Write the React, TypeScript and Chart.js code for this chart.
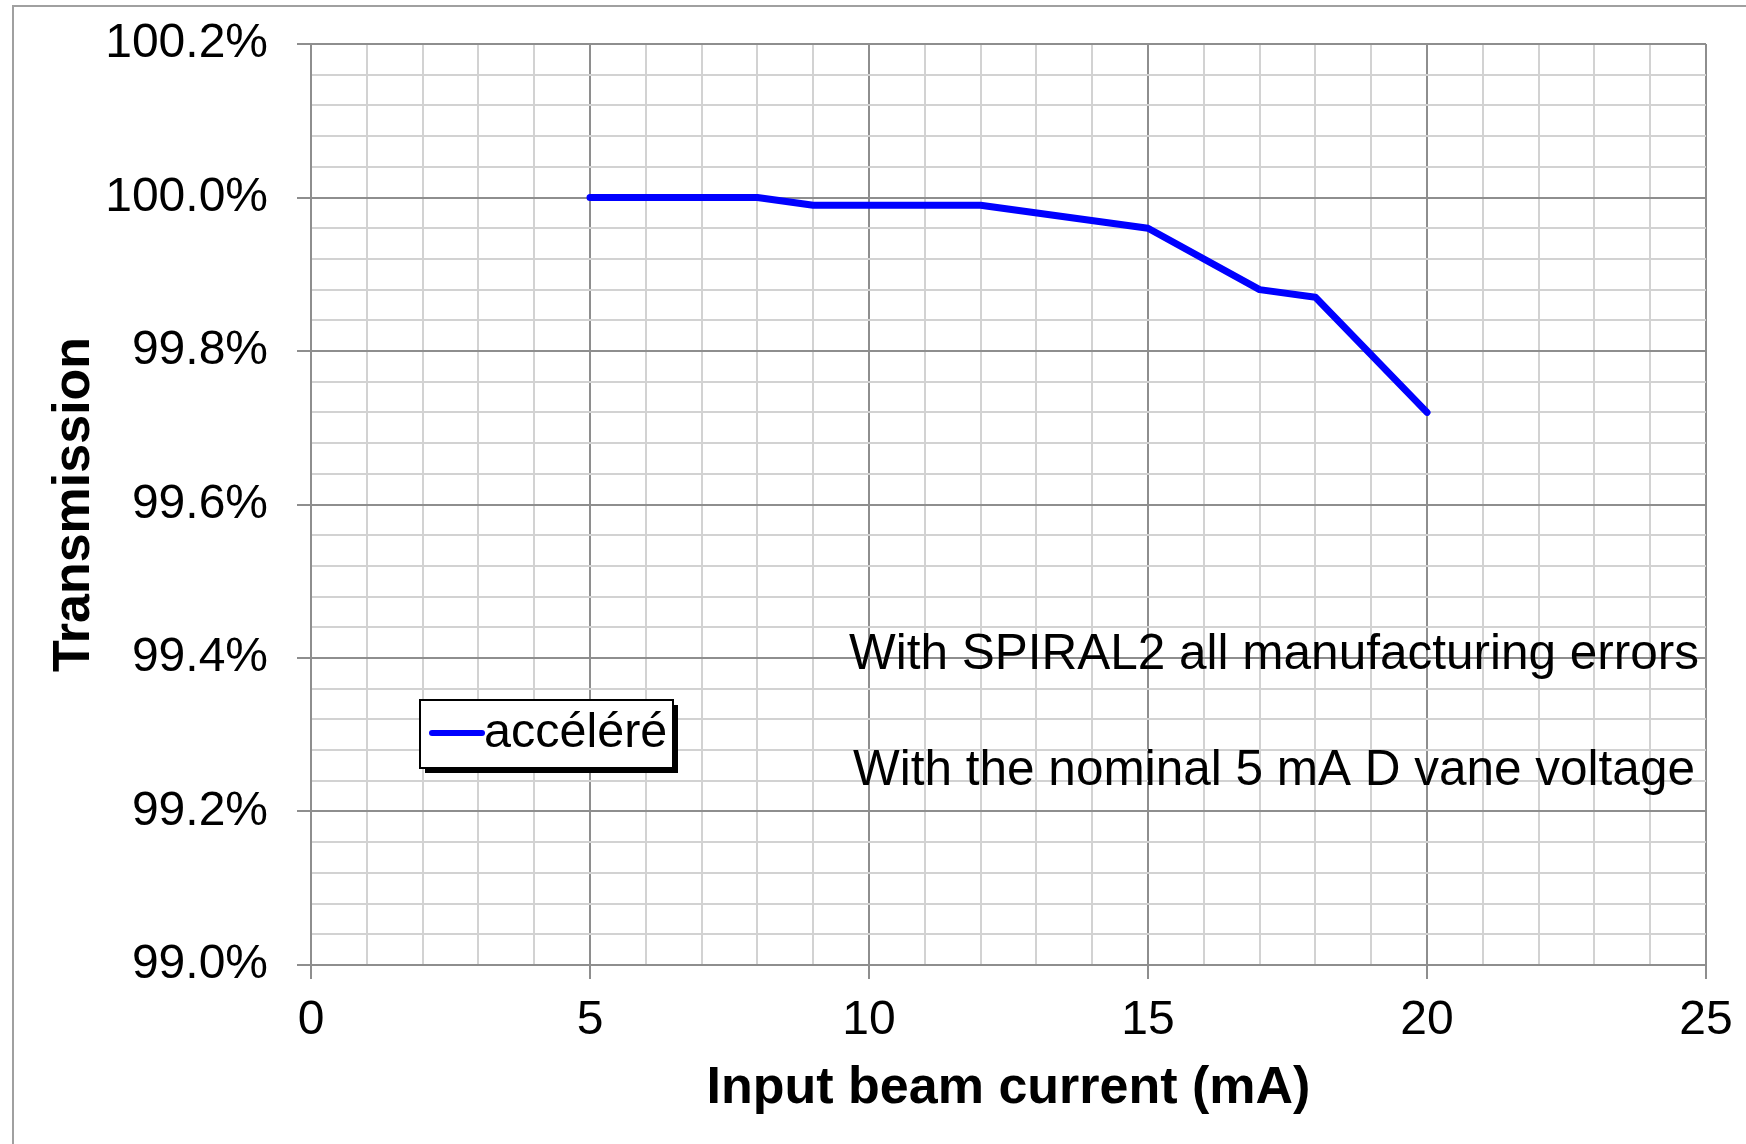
import React, { useEffect, useRef } from "react";
import { Chart, registerables } from "chart.js";

Chart.register(...registerables);

// ---- data ----
const seriesLabel = "accéléré";
const xValues = [5, 8, 9, 12, 15, 17, 18, 20];
const yValues = [100.0, 100.0, 99.99, 99.99, 99.96, 99.88, 99.87, 99.72];

const xMajorTicks = [0, 5, 10, 15, 20, 25];
const yMajorTicks = [99.0, 99.2, 99.4, 99.6, 99.8, 100.0, 100.2];
const xMinorStep = 1;
const yMinorStep = 0.04;

const xTitle = "Input beam current (mA)";
const yTitle = "Transmission";
const notes = [
  "With SPIRAL2 all manufacturing errors",
  "With the nominal 5 mA D vane voltage",
];

const FONT = "'Liberation Sans', Arial, sans-serif";
const MAJOR = "#8e8e8e";
const MINOR = "#d2d2d2";

const isMajor = (list: number[], v: number) =>
  list.some((m) => Math.abs(m - v) < 1e-6);

export default function App() {
  const ref = useRef<HTMLCanvasElement | null>(null);

  useEffect(() => {
    if (!ref.current) return;

    const framePlugin = {
      id: "frame",
      beforeDraw(chart: any) {
        const { ctx, width, height } = chart;
        ctx.save();
        ctx.fillStyle = "#ffffff";
        ctx.fillRect(0, 0, width, height);
        ctx.strokeStyle = "#a0a0a0";
        ctx.lineWidth = 2;
        ctx.strokeRect(13, 6, width + 20, height + 20);
        ctx.restore();
      },
    };

    const overlayPlugin = {
      id: "overlay",
      afterDraw(chart: any) {
        const { ctx } = chart;
        ctx.save();
        // annotations
        ctx.fillStyle = "#000";
        ctx.font = `49.5px ${FONT}`;
        ctx.textAlign = "center";
        ctx.textBaseline = "middle";
        ctx.fillText(notes[0], 1274, 655);
        ctx.fillText(notes[1], 1274, 771);

        // legend box
        const ds = chart.data.datasets[0];
        const bx = 420, by = 700, bw = 253, bh = 68;
        ctx.fillStyle = "#000";
        ctx.fillRect(bx + 5, by + 5, bw, bh);
        ctx.fillStyle = "#fff";
        ctx.fillRect(bx, by, bw, bh);
        ctx.strokeStyle = "#000";
        ctx.lineWidth = 2;
        ctx.strokeRect(bx, by, bw, bh);
        ctx.strokeStyle = ds.borderColor;
        ctx.lineWidth = 6;
        ctx.lineCap = "round";
        ctx.beginPath();
        ctx.moveTo(bx + 12, by + 33);
        ctx.lineTo(bx + 62, by + 33);
        ctx.stroke();
        ctx.fillStyle = "#000";
        ctx.font = `48.5px ${FONT}`;
        ctx.textAlign = "left";
        ctx.textBaseline = "middle";
        ctx.fillText(ds.label, bx + 64, by + 34);
        ctx.restore();
      },
    };

    const chart = new Chart(ref.current, {
      type: "line",
      data: {
        datasets: [
          {
            label: seriesLabel,
            data: xValues.map((x, i) => ({ x, y: yValues[i] })),
            borderColor: "#0000ff",
            borderWidth: 7,
            borderCapStyle: "round",
            borderJoinStyle: "round",
            pointRadius: 0,
            fill: false,
            tension: 0,
          },
        ],
      },
      options: {
        animation: false,
        responsive: false,
        maintainAspectRatio: false,
        layout: { padding: { left: 0, top: 44, right: 40, bottom: 0 } },
        plugins: {
          legend: { display: false },
          tooltip: { enabled: false },
        },
        scales: {
          x: {
            type: "linear",
            min: 0,
            max: 25,
            afterFit: (s: any) => {
              s.height = 179;
            },
            ticks: {
              stepSize: xMinorStep,
              autoSkip: false,
              maxRotation: 0,
              padding: 13,
              color: "#000",
              font: { family: FONT, size: 48 },
              callback: (v: any) => (isMajor(xMajorTicks, Number(v)) ? String(v) : ""),
            },
            grid: {
              color: (c: any) => (isMajor(xMajorTicks, c.tick?.value) ? MAJOR : MINOR),
              tickColor: (c: any) =>
                isMajor(xMajorTicks, c.tick?.value) ? MAJOR : "rgba(0,0,0,0)",
              lineWidth: 2,
              tickLength: 14,
            },
            border: { color: MAJOR, width: 2 },
            title: {
              display: true,
              text: xTitle,
              color: "#000",
              font: { family: FONT, size: 52, weight: "bold" },
              padding: { top: 0, bottom: 24 },
            },
          },
          y: {
            type: "linear",
            min: 99.0,
            max: 100.2,
            afterFit: (s: any) => {
              s.width = 311;
            },
            ticks: {
              stepSize: yMinorStep,
              autoSkip: false,
              padding: 29,
              color: "#000",
              font: { family: FONT, size: 48, lineHeight: 0.6 },
              callback: (v: any) =>
                isMajor(yMajorTicks, Number(v)) ? Number(v).toFixed(1) + "%" : "",
            },
            grid: {
              color: (c: any) => (isMajor(yMajorTicks, c.tick?.value) ? MAJOR : MINOR),
              tickColor: (c: any) =>
                isMajor(yMajorTicks, c.tick?.value) ? MAJOR : "rgba(0,0,0,0)",
              lineWidth: 2,
              tickLength: 14,
            },
            border: { color: MAJOR, width: 2 },
            title: {
              display: true,
              text: yTitle,
              color: "#000",
              font: { family: FONT, size: 52, weight: "bold" },
              padding: { top: 43, bottom: 0 },
            },
          },
        },
      } as any,
      plugins: [framePlugin, overlayPlugin],
    });

    return () => chart.destroy();
  }, []);

  return (
    <div style={{ position: "absolute", left: 0, top: 0, width: 1746, height: 1144 }}>
      <canvas ref={ref} width={1746} height={1144} style={{ width: 1746, height: 1144, display: "block" }} />
    </div>
  );
}
